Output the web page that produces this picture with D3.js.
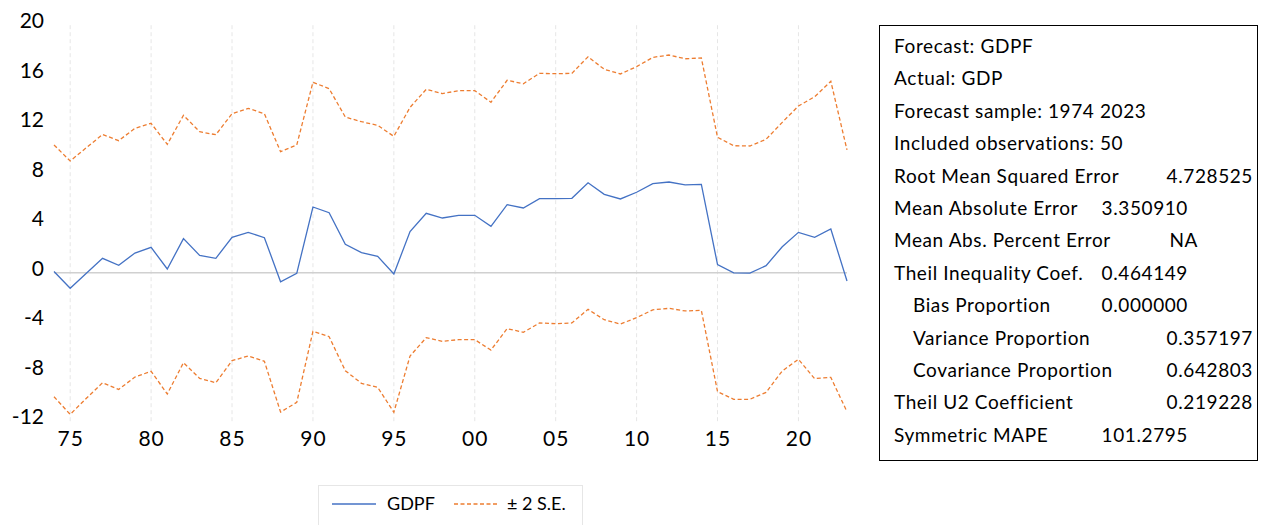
<!DOCTYPE html>
<html>
<head>
<meta charset="utf-8">
<script src="https://cdn.jsdelivr.net/npm/d3@7"></script>
<style>
  body { margin: 0; background: #fff; }
  svg { display: block; font-family: Lato, "Open Sans", sans-serif; }
</style>
</head>
<body>
<svg id="chart" width="1267" height="525"></svg>
<script>
// data
const years = d3.range(1974, 2024)
const gdpf = [0.1, -1.26, -0.05, 1.16, 0.6, 1.59, 2.05, 0.3, 2.75, 1.4,
  1.16, 2.86, 3.26, 2.83, -0.73, -0.05, 5.31, 4.85, 2.29, 1.62,
  1.32, -0.1, 3.32, 4.8, 4.42, 4.64, 4.64, 3.75, 5.5, 5.23,
  5.98, 5.98, 6.01, 7.27, 6.33, 5.96, 6.5, 7.2, 7.33, 7.09,
  7.14, 0.65, -0.02, -0.03, 0.57, 2.1, 3.26, 2.86, 3.53, -0.67]
const upper = [10.32, 9.03, 10.1, 11.17, 10.67, 11.67, 12.07, 10.37, 12.72, 11.39,
  11.15, 12.85, 13.28, 12.85, 9.78, 10.32, 15.39, 14.87, 12.58, 12.2,
  11.91, 11.02, 13.36, 14.82, 14.47, 14.71, 14.71, 13.77, 15.55, 15.27,
  16.11, 16.08, 16.11, 17.45, 16.44, 16.06, 16.65, 17.4, 17.59, 17.29,
  17.35, 10.94, 10.26, 10.24, 10.78, 12.15, 13.47, 14.22, 15.47, 9.92]
const lower = [-10.02, -11.45, -10.15, -8.89, -9.43, -8.43, -7.97, -9.8, -7.27, -8.54,
  -8.89, -7.11, -6.73, -7.16, -11.26, -10.48, -4.74, -5.17, -7.92, -8.94,
  -9.26, -11.28, -6.73, -5.25, -5.55, -5.41, -5.41, -6.25, -4.52, -4.82,
  -4.06, -4.12, -4.06, -2.96, -3.8, -4.15, -3.63, -3.0, -2.88, -3.09,
  -3.04, -9.61, -10.23, -10.23, -9.67, -7.94, -7.0, -8.56, -8.46, -11.23]

const yTicks = [-12, -8, -4, 0, 4, 8, 12, 16, 20]
const xTicks = [1975, 1980, 1985, 1990, 1995, 2000, 2005, 2010, 2015, 2020]
const xTickLabels = ["75", "80", "85", "90", "95", "00", "05", "10", "15", "20"]

const statLabels = ["Forecast: GDPF", "Actual: GDP", "Forecast sample: 1974 2023",
  "Included observations: 50", "Root Mean Squared Error", "Mean Absolute Error",
  "Mean Abs. Percent Error", "Theil Inequality Coef.", "Bias Proportion",
  "Variance Proportion", "Covariance Proportion", "Theil U2 Coefficient", "Symmetric MAPE"]
const statValues = ["", "", "", "", "4.728525", "3.350910", "NA", "0.464149",
  "0.000000", "0.357197", "0.642803", "0.219228", "101.2795"]
const statIndent = [0, 0, 0, 0, 0, 0, 0, 0, 1, 1, 1, 0, 0]
// where each value ends (EViews tab alignment)
const statValueEnd = [0, 0, 0, 0, 1253, 1188, 1198, 1188, 1188, 1253, 1253, 1253, 1188]

const blue = "#4472C4"
const orange = "#ED7D31"

const svg = d3.select("#chart")

const xScale = d3.scaleLinear()
  .domain([1974, 2023])
  .range([54, 847])

const yScale = d3.scaleLinear()
  .domain([-12, 20])
  .range([421.2, 25.2])

// vertical dashed gridlines
svg.append("g")
  .selectAll("line")
  .data(xTicks)
  .join("line")
  .attr("x1", d => xScale(d))
  .attr("x2", d => xScale(d))
  .attr("y1", yScale(20))
  .attr("y2", yScale(-12) + 1)
  .attr("stroke", "#e6e6e6")
  .attr("stroke-width", 1)
  .attr("stroke-dasharray", "4,3")

// zero line
svg.append("line")
  .attr("x1", xScale(1974))
  .attr("x2", xScale(2023))
  .attr("y1", yScale(0))
  .attr("y2", yScale(0))
  .attr("stroke", "#d0d0d0")
  .attr("stroke-width", 1.5)

// y axis labels (sit a little above their value, like the original)
const yAxis = svg.append("g")
  .attr("transform", "translate(44,0)")
  .call(d3.axisLeft(yScale).tickValues(yTicks).tickSize(0).tickPadding(0).tickFormat(d => String(d)))
yAxis.select(".domain").remove()
yAxis.selectAll("text")
  .attr("font-family", "Lato, sans-serif")
  .attr("font-size", 21)
  .attr("fill", "#000")
  .attr("dy", "0.12em")

// x axis labels
const xAxis = svg.append("g")
  .attr("transform", `translate(0,${yScale(-12)})`)
  .call(d3.axisBottom(xScale).tickValues(xTicks).tickSize(0).tickPadding(10)
    .tickFormat((d, i) => xTickLabels[i]))
xAxis.select(".domain").remove()
xAxis.selectAll("text")
  .attr("font-family", "Lato, sans-serif")
  .attr("font-size", 21)
  .attr("letter-spacing", 1)
  .attr("fill", "#000")

const line = d3.line()
  .x((d, i) => xScale(years[i]))
  .y(d => yScale(d))

svg.append("path")
  .datum(upper)
  .attr("d", line)
  .attr("fill", "none")
  .attr("stroke", orange)
  .attr("stroke-width", 1.3)
  .attr("stroke-dasharray", "4,2.5")

svg.append("path")
  .datum(lower)
  .attr("d", line)
  .attr("fill", "none")
  .attr("stroke", orange)
  .attr("stroke-width", 1.3)
  .attr("stroke-dasharray", "4,2.5")

svg.append("path")
  .datum(gdpf)
  .attr("d", line)
  .attr("fill", "none")
  .attr("stroke", blue)
  .attr("stroke-width", 1.3)

// legend
const legend = svg.append("g")
legend.append("rect")
  .attr("x", 318.5).attr("y", 485.5)
  .attr("width", 264).attr("height", 50)
  .attr("fill", "#fff")
  .attr("stroke", "#e6e6e6")
legend.append("line")
  .attr("x1", 332).attr("x2", 376).attr("y1", 504).attr("y2", 504)
  .attr("stroke", blue).attr("stroke-width", 1.3)
legend.append("text")
  .attr("x", 387).attr("y", 504).attr("dy", "0.36em")
  .attr("font-size", 18)
  .text("GDPF")
legend.append("line")
  .attr("x1", 454).attr("x2", 497).attr("y1", 504).attr("y2", 504)
  .attr("stroke", orange).attr("stroke-width", 1.3)
  .attr("stroke-dasharray", "4,2.5")
legend.append("text")
  .attr("x", 507).attr("y", 504).attr("dy", "0.36em")
  .attr("font-size", 18)
  .text("± 2 S.E.")

// stats box
const box = svg.append("g")
box.append("rect")
  .attr("x", 879.5).attr("y", 25.5)
  .attr("width", 378).attr("height", 435)
  .attr("fill", "#fff")
  .attr("stroke", "#000")
  .attr("stroke-width", 1)

const rowY = d3.scaleLinear().domain([0, 12]).range([46, 435])

box.selectAll("text.lab")
  .data(statLabels)
  .join("text")
  .attr("class", "lab")
  .attr("x", (d, i) => statIndent[i] ? 913 : 894)
  .attr("y", (d, i) => rowY(i))
  .attr("dy", "0.36em")
  .attr("font-size", 19)
  .attr("letter-spacing", 0.6)
  .text(d => d)

box.selectAll("text.val")
  .data(statValues)
  .join("text")
  .attr("class", "val")
  .attr("x", (d, i) => statValueEnd[i])
  .attr("y", (d, i) => rowY(i))
  .attr("dy", "0.36em")
  .attr("text-anchor", "end")
  .attr("font-size", 19)
  .attr("letter-spacing", 0.6)
  .text(d => d)
</script>
</body>
</html>
